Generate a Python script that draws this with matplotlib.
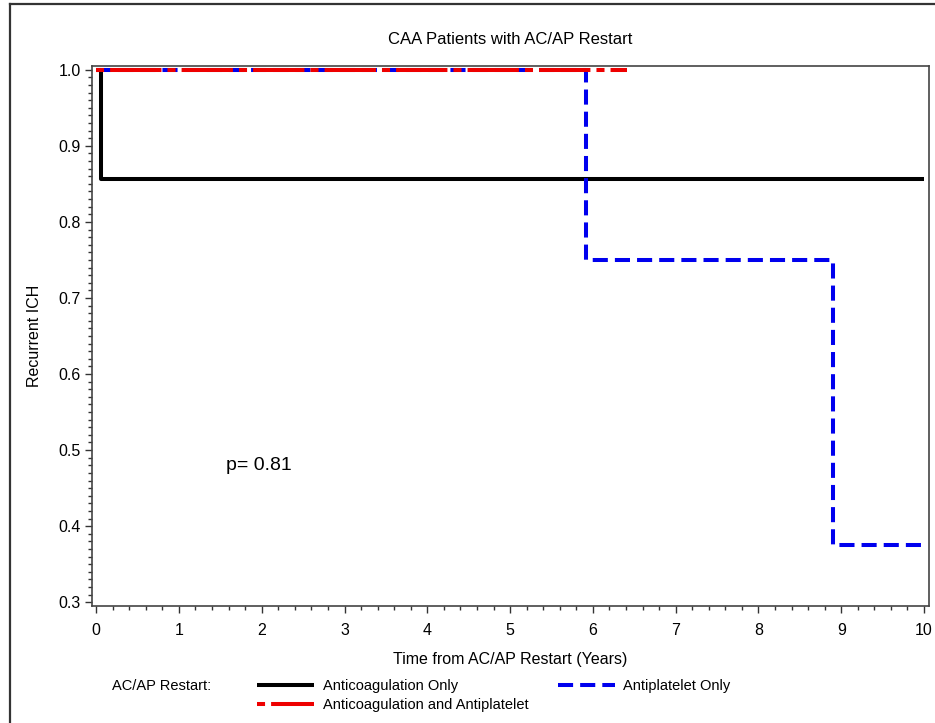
import matplotlib
matplotlib.use("Agg")
import matplotlib.pyplot as plt
from matplotlib.lines import Line2D
from matplotlib.ticker import MultipleLocator

plt.rcParams['font.family'] = ['Liberation Sans', 'DejaVu Sans']

# Data (step survival curves)
black_t = [0, 0.06, 10]
black_s = [1.0, 0.857, 0.857]
red_t = [0, 6.41]
red_s = [1.0, 1.0]
blue_t = [0, 5.92, 8.90, 10]
blue_s = [1.0, 0.75, 0.375, 0.375]

labels = ["Anticoagulation Only", "Anticoagulation and Antiplatelet", "Antiplatelet Only"]
xticks = list(range(0, 11))
yticks = [0.3, 0.4, 0.5, 0.6, 0.7, 0.8, 0.9, 1.0]

W, H = 935, 723
fig = plt.figure(figsize=(W / 100, H / 100), dpi=100)
ax = fig.add_axes([92 / W, 1 - 606 / H, (929 - 92) / W, (606 - 66) / H])

lw = 2.9
lb, = ax.step(black_t, black_s, where='post', color='black', lw=lw, label=labels[0],
              solid_capstyle='butt')
lbl, = ax.step(blue_t, blue_s, where='post', color='#0000ee', lw=lw, label=labels[2],
               linestyle=(0, (3.75, 1.75)))
lr, = ax.step(red_t, red_s, where='post', color='#ee0000', lw=lw, label=labels[1],
              linestyle=(0, (2.0, 1.5, 12.75, 1.5)))

ax.set_xlim(-0.05, 10.06)
ax.set_ylim(0.295, 1.005)
ax.set_xticks(xticks)
ax.set_yticks(yticks)
ax.set_yticklabels([f"{v:.1f}" for v in yticks])
ax.xaxis.set_minor_locator(MultipleLocator(0.2))
ax.yaxis.set_minor_locator(MultipleLocator(0.01))
ax.tick_params(axis='both', which='major', length=5, width=1, labelsize=11.5, color='#333333')
ax.tick_params(axis='x', which='major', pad=7)
ax.tick_params(axis='y', which='major', pad=3)
ax.tick_params(axis='both', which='minor', length=3, width=1, color='#333333')
for s in ax.spines.values():
    s.set_color('#444444')
    s.set_linewidth(1.2)

ax.set_title("CAA Patients with AC/AP Restart", fontsize=12, pad=16)
ax.set_xlabel("Time from AC/AP Restart (Years)", fontsize=11.5, labelpad=10)
ax.set_ylabel("Recurrent ICH", fontsize=11.5, labelpad=12)

ax.text(1.57, 0.48, "p= 0.81", fontsize=14, ha='left', va='center')

# Legend
fig.text(112 / W, 1 - 686 / H, "AC/AP Restart:", fontsize=10.5, ha='left', va='center')
leg = fig.legend(handles=[lb, lr, lbl], labels=labels, ncol=2, frameon=False,
                 loc='upper left', bbox_to_anchor=(250 / W, 1 - 672 / H),
                 fontsize=10.5, handlelength=3.9, handletextpad=0.6,
                 columnspacing=2.0, labelspacing=0.3, borderpad=0)

# Outer border
fig.add_artist(Line2D([10 / W, 1.0], [1 - 4 / H, 1 - 4 / H], transform=fig.transFigure,
                      color='#333333', lw=1.6))
fig.add_artist(Line2D([10 / W, 10 / W], [0, 1 - 4 / H], transform=fig.transFigure,
                      color='#333333', lw=1.6))

fig.savefig("out.png", dpi=100)
